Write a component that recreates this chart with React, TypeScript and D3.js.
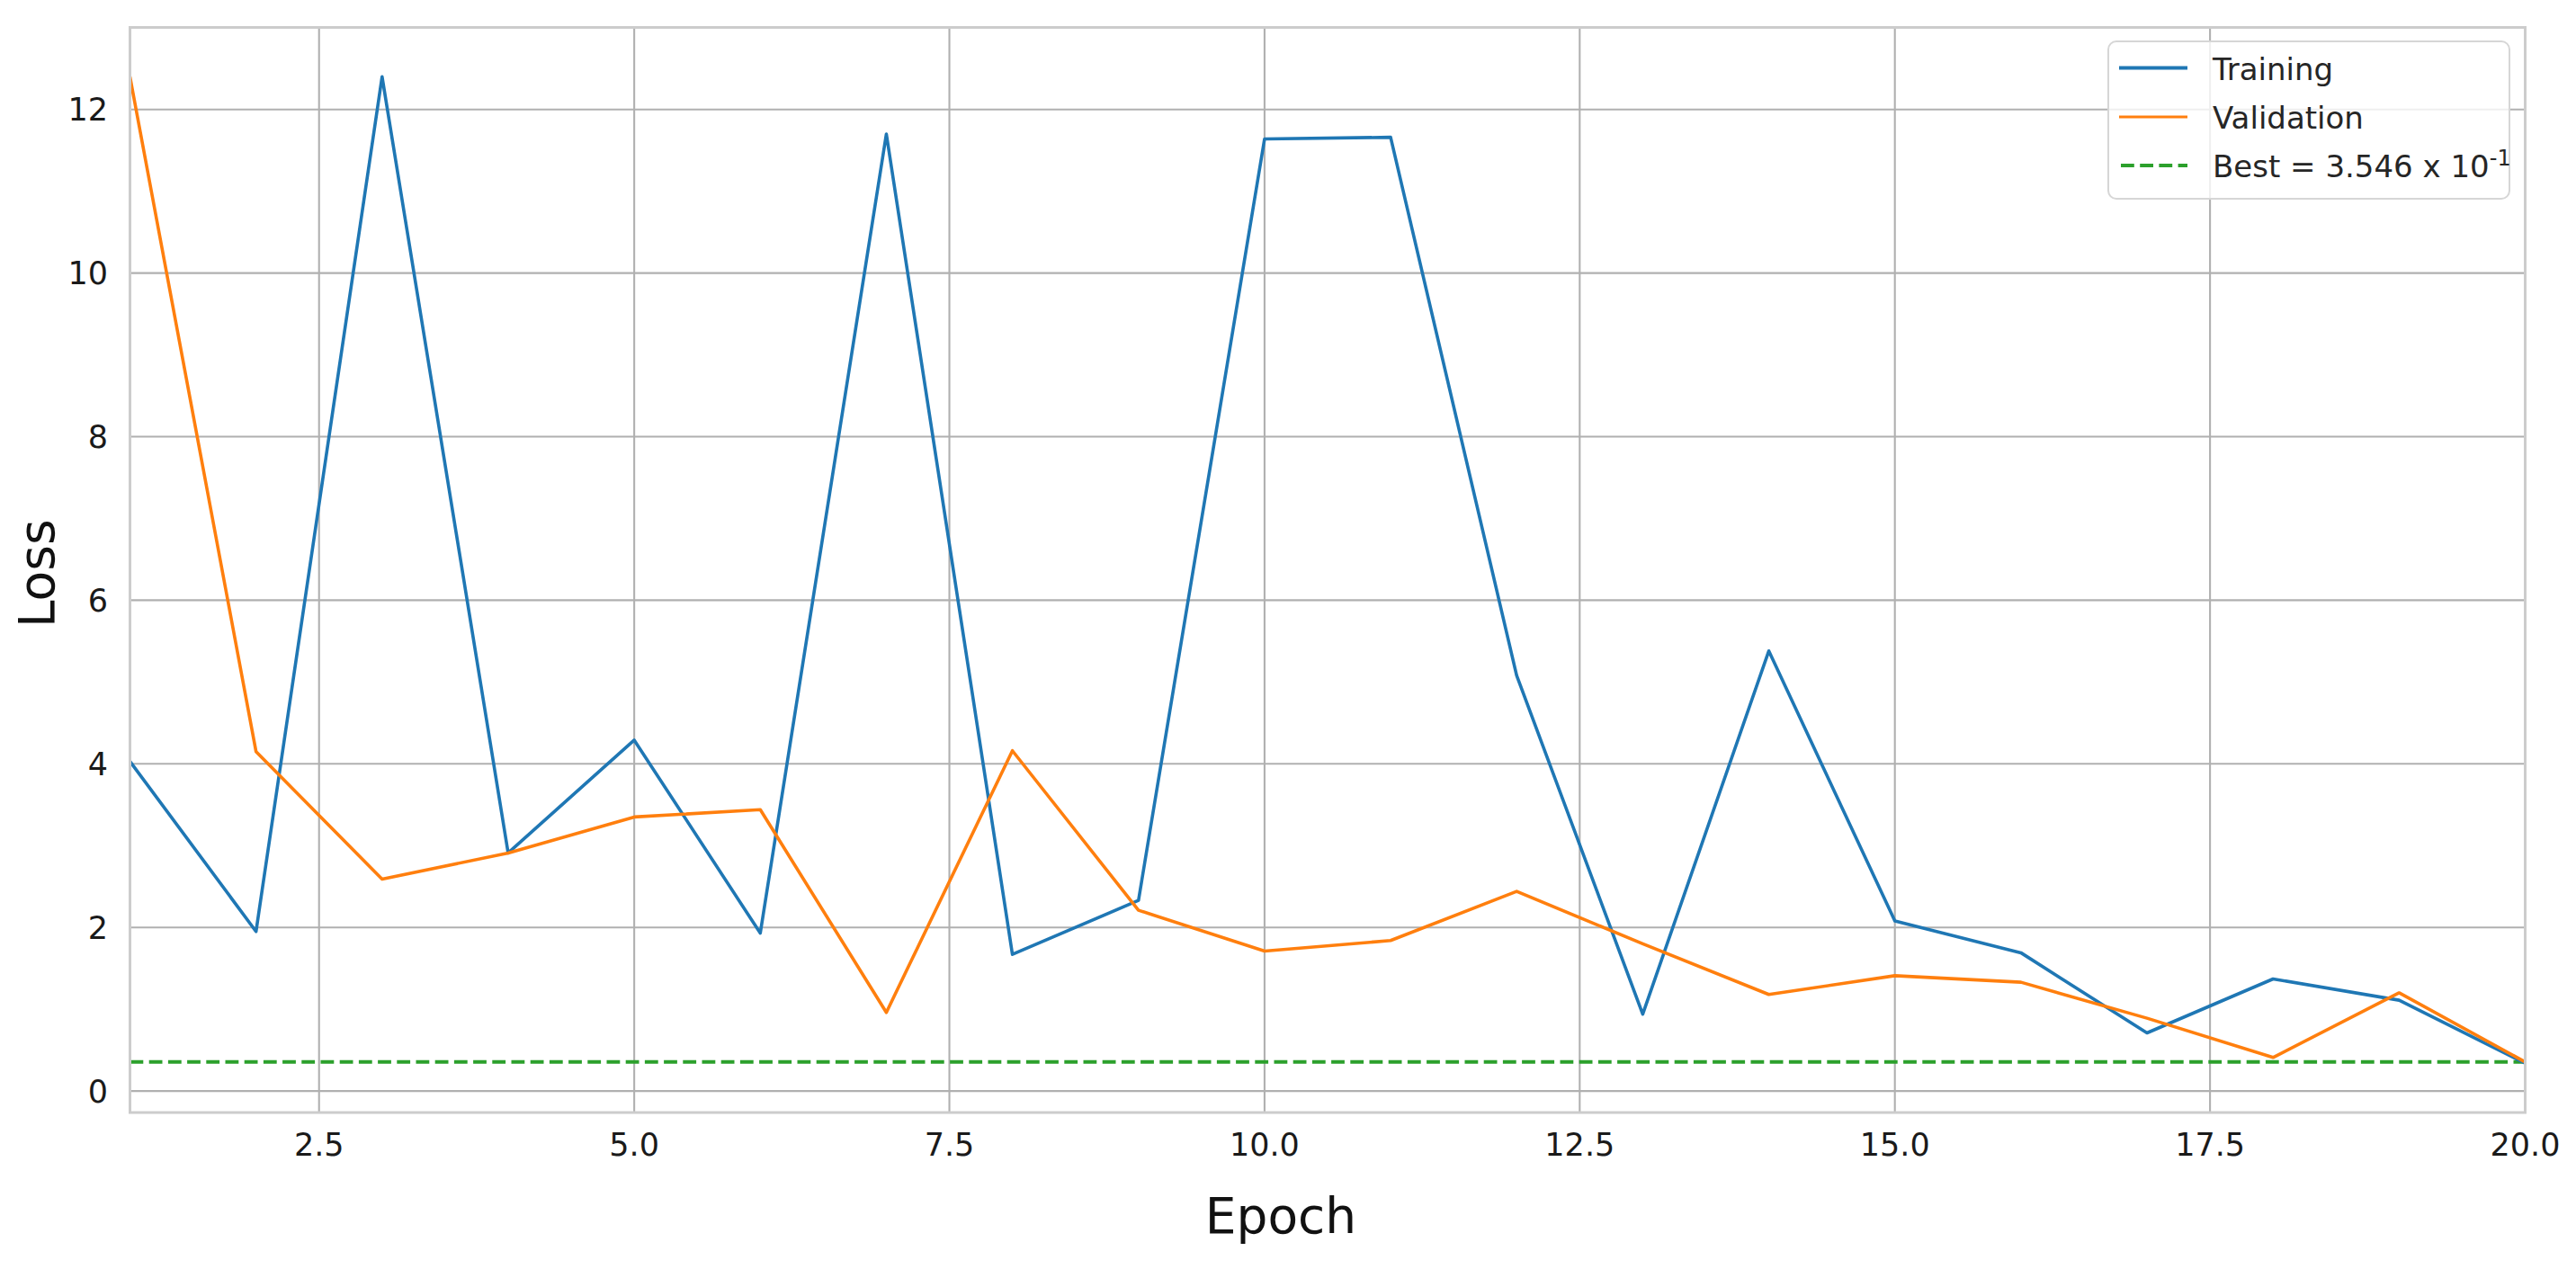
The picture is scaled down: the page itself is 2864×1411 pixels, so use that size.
import React, { useRef, useEffect } from "react";
import * as d3 from "d3";

// values, one per epoch
const epochs = [1, 2, 3, 4, 5, 6, 7, 8, 9, 10, 11, 12, 13, 14, 15, 16, 17, 18, 19, 20];
const trainingLoss = [4.03, 1.95, 12.4, 2.91, 4.29, 1.93, 11.7, 1.67, 2.33, 11.64, 11.66, 5.08, 0.94, 5.38, 2.08, 1.69, 0.71, 1.37, 1.11, 0.34];
const validationLoss = [12.4, 4.15, 2.59, 2.91, 3.35, 3.44, 0.96, 4.16, 2.21, 1.71, 1.84, 2.44, 1.8, 1.18, 1.41, 1.33, 0.89, 0.41, 1.2, 0.3546];
const bestLoss = 0.3546;

const xTicks = [2.5, 5, 7.5, 10, 12.5, 15, 17.5, 20];
const yTicks = [0, 2, 4, 6, 8, 10, 12];
const seriesNames = ["Training", "Validation"];
const bestLabel = "Best = 3.546 x 10";
const bestExponent = "-1";

const W = 2864;
const H = 1411;
const FONT = "'DejaVu Sans', sans-serif";

function LossChart() {
    const ref = useRef<SVGSVGElement | null>(null);

    useEffect(() => {
        const svg = d3.select(ref.current);
        svg.selectAll("*").remove();

        const left = 144.5, right = 2807.5, top = 30.5, bottom = 1237;

        // matplotlib style 5% margin on y
        const all = trainingLoss.concat(validationLoss);
        const yMin = d3.min(all) as number;
        const yMax = d3.max(all) as number;
        const pad = (yMax - yMin) * 0.05;

        const x = d3.scaleLinear().domain([1, 20]).range([left, right]);
        const y = d3.scaleLinear().domain([yMin - pad, yMax + pad]).range([bottom, top]);

        svg.append("rect").attr("width", W).attr("height", H).attr("fill", "#ffffff");

        // grid
        const grid = svg.append("g");
        grid.selectAll("line.gx")
            .data(xTicks)
            .join("line")
            .attr("x1", d => x(d)).attr("x2", d => x(d))
            .attr("y1", top).attr("y2", bottom)
            .attr("stroke", "#b0b0b0").attr("stroke-width", 2.1);
        grid.selectAll("line.gy")
            .data(yTicks)
            .join("line")
            .attr("x1", left).attr("x2", right)
            .attr("y1", d => y(d)).attr("y2", d => y(d))
            .attr("stroke", "#b0b0b0").attr("stroke-width", 2.1);

        // tick labels
        svg.append("g").selectAll("text")
            .data(xTicks)
            .join("text")
            .attr("x", d => x(d))
            .attr("y", 1285)
            .attr("text-anchor", "middle")
            .attr("font-family", FONT)
            .attr("font-size", 35)
            .attr("fill", "#1a1a1a")
            .text(d => d3.format(".1f")(d));
        svg.append("g").selectAll("text")
            .data(yTicks)
            .join("text")
            .attr("x", 120)
            .attr("y", d => y(d))
            .attr("dy", "0.36em")
            .attr("text-anchor", "end")
            .attr("font-family", FONT)
            .attr("font-size", 35)
            .attr("fill", "#1a1a1a")
            .text(d => String(d));

        // axis labels
        svg.append("text")
            .attr("x", 1424).attr("y", 1371)
            .attr("text-anchor", "middle")
            .attr("font-family", FONT).attr("font-size", 55)
            .attr("fill", "#111")
            .text("Epoch");
        svg.append("text")
            .attr("transform", `translate(60,${(top + bottom) / 2 + 4}) rotate(-90)`)
            .attr("text-anchor", "middle")
            .attr("font-family", FONT).attr("font-size", 55)
            .attr("fill", "#111")
            .text("Loss");

        // clip to axes
        svg.append("clipPath").attr("id", "plotClip")
            .append("rect")
            .attr("x", left).attr("y", top)
            .attr("width", right - left).attr("height", bottom - top);

        const plot = svg.append("g").attr("clip-path", "url(#plotClip)");

        const line = d3.line<number>()
            .x((d, i) => x(epochs[i]))
            .y(d => y(d));

        plot.append("line")
            .attr("x1", left).attr("x2", right)
            .attr("y1", y(bestLoss)).attr("y2", y(bestLoss))
            .attr("stroke", "#2ca02c")
            .attr("stroke-width", 4)
            .attr("stroke-dasharray", "14.8 6.4");

        plot.append("path")
            .datum(trainingLoss)
            .attr("fill", "none")
            .attr("stroke", "#1f77b4")
            .attr("stroke-width", 3.6)
            .attr("stroke-linejoin", "round")
            .attr("d", line);

        plot.append("path")
            .datum(validationLoss)
            .attr("fill", "none")
            .attr("stroke", "#ff7f0e")
            .attr("stroke-width", 3.6)
            .attr("stroke-linejoin", "round")
            .attr("d", line);

        // spines
        svg.append("rect")
            .attr("x", left).attr("y", top)
            .attr("width", right - left).attr("height", bottom - top)
            .attr("fill", "none")
            .attr("stroke", "#cccccc")
            .attr("stroke-width", 3);

        // legend
        const lg = svg.append("g");
        lg.append("rect")
            .attr("x", 2344).attr("y", 46)
            .attr("width", 446).attr("height", 175)
            .attr("rx", 9)
            .attr("fill", "rgba(255,255,255,0.8)")
            .attr("stroke", "#d6d6d6")
            .attr("stroke-width", 2);

        const rowY = [75.5, 130, 184];
        const handleColors = ["#1f77b4", "#ff7f0e"];
        const handleWidths = [4, 2.8];
        seriesNames.forEach((name, i) => {
            lg.append("line")
                .attr("x1", 2356).attr("x2", 2432)
                .attr("y1", rowY[i]).attr("y2", rowY[i])
                .attr("stroke", handleColors[i])
                .attr("stroke-width", handleWidths[i]);
            lg.append("text")
                .attr("x", 2460).attr("y", rowY[i] + 13)
                .attr("font-family", FONT).attr("font-size", 34)
                .attr("fill", "#262626")
                .text(name);
        });
        lg.append("line")
            .attr("x1", 2358).attr("x2", 2432)
            .attr("y1", rowY[2]).attr("y2", rowY[2])
            .attr("stroke", "#2ca02c")
            .attr("stroke-width", 4)
            .attr("stroke-dasharray", "14.8 6.4");
        const best = lg.append("text")
            .attr("x", 2460).attr("y", rowY[2] + 13)
            .attr("font-family", FONT).attr("font-size", 34)
            .attr("fill", "#262626");
        best.append("tspan").text(bestLabel);
        best.append("tspan")
            .attr("dy", -13)
            .attr("font-size", 24)
            .text(bestExponent);
    }, []);

    return (
        <svg
            ref={ref}
            width={W}
            height={H}
            style={{ position: "absolute", left: 0, top: 0, display: "block" }}
        />
    );
}

export default function App() {
    return <LossChart />;
}
